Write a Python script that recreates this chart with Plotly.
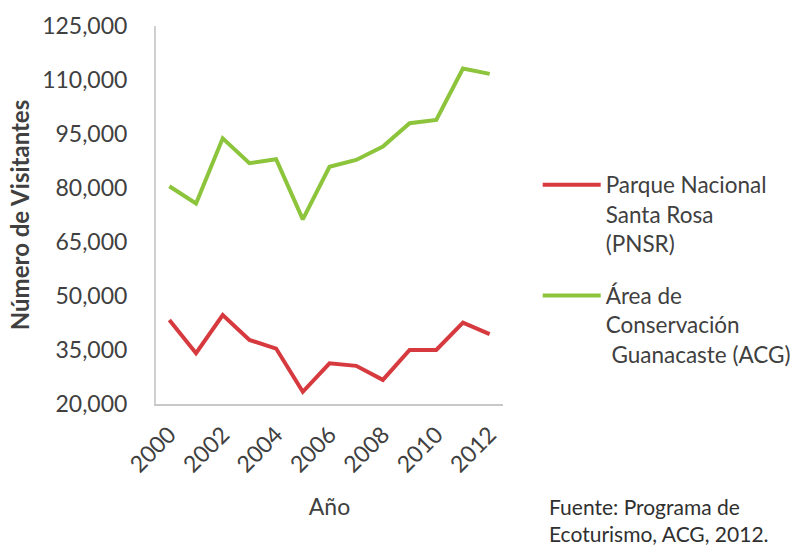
import plotly.graph_objects as go

years = list(range(2000, 2013))
pnsr = [43300, 34100, 44700, 37800, 35400, 23400, 31300, 30600, 26700, 35000, 35000, 42600, 39400]
acg = [80500, 75700, 93800, 86900, 88000, 71300, 85900, 87800, 91500, 98000, 98900, 113200, 111700]
names = ["Parque Nacional<br>Santa Rosa<br>(PNSR)", "Área de<br>Conservación<br> Guanacaste (ACG)"]
colors = ["#d63a3f", "#8cc43c"]
ytickvals = [20000, 35000, 50000, 65000, 80000, 95000, 110000, 125000]
xtickvals = [2000, 2002, 2004, 2006, 2008, 2010, 2012]

FONT = "Lato"
TXT = "#404040"

fig = go.Figure()
for i, (name, vals, c) in enumerate(zip(names, [pnsr, acg], colors)):
    fig.add_trace(go.Scatter(x=years, y=vals, mode="lines", name=name, legendgroup=f"g{i}",
                             line=dict(color=c, width=4)))

fig.update_layout(
    width=809, height=548,
    margin=dict(l=156, r=306, t=26, b=144),
    paper_bgcolor="white", plot_bgcolor="white",
    font=dict(family=FONT, color=TXT, size=20),
    showlegend=True,
    legend=dict(x=1.1, y=0.636, xanchor="left", yanchor="top",
                font=dict(family=FONT, size=22.5, color=TXT),
                valign="top", tracegroupgap=20, itemwidth=58),
)
fig.update_xaxes(
    range=[1999.5, 2012.5], tickvals=xtickvals, tickangle=-45,
    showline=True, linecolor="#c8c8c8", linewidth=2, showgrid=False, zeroline=False,
    ticks="", tickfont=dict(size=23, color=TXT), ticklabelstandoff=6,
    title=dict(text="Año", font=dict(size=23, color=TXT), standoff=22),
)
fig.update_yaxes(
    range=[20000, 125000], tickvals=ytickvals, tickformat=",",
    showline=True, linecolor="#d0d0d0", linewidth=2, showgrid=False, zeroline=False,
    ticks="", tickfont=dict(size=23, color=TXT), ticklabelstandoff=22,
    title=dict(text="<b>Número de Visitantes</b>", font=dict(size=24, color=TXT), standoff=6),
)
fig.add_annotation(text="Fuente: Programa de<br>Ecoturismo, ACG, 2012.", xref="paper", yref="paper",
                   x=(547 - 156) / 347, y=-(520 - 404) / 378, xanchor="left", yanchor="middle",
                   align="left", showarrow=False, font=dict(size=21, color="#303030", family=FONT))
fig.write_html("out.html", config={"displayModeBar": False},
               post_script="document.body.style.margin='0';")
